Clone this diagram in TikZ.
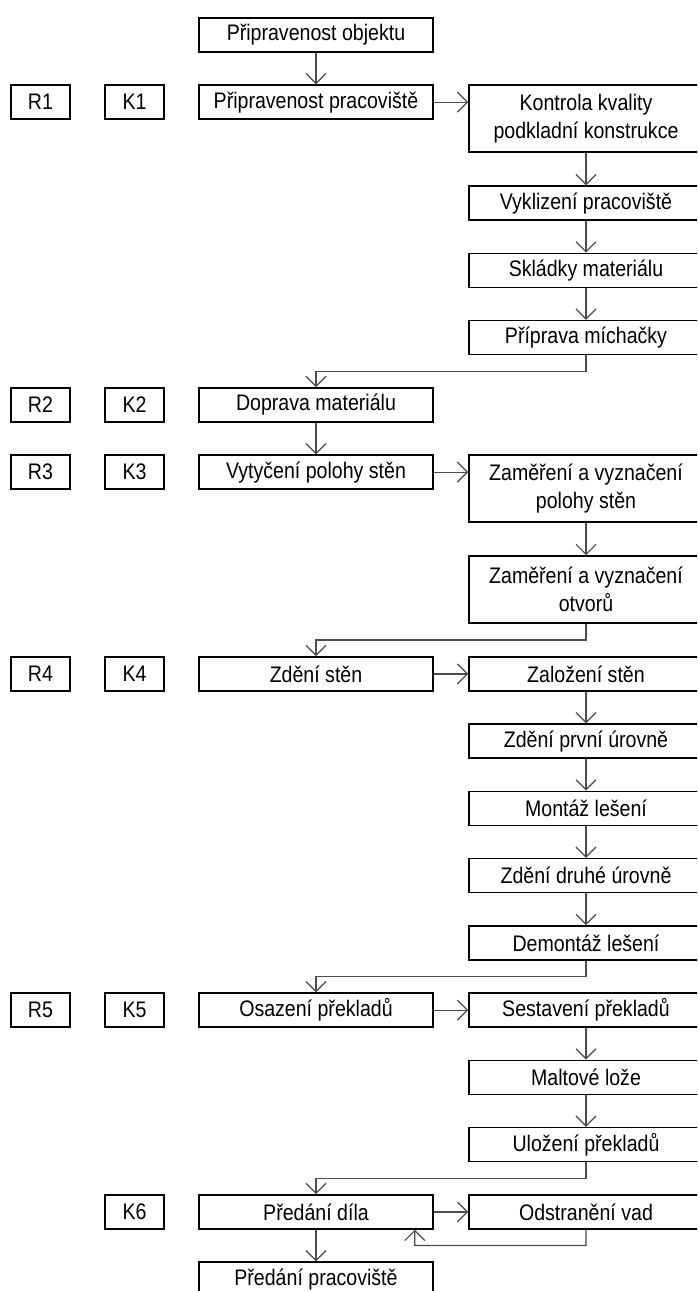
\documentclass[tikz,border=0pt]{standalone}
\usepackage{fontspec}
\setmainfont{Liberation Sans}[FakeStretch=0.87]
\usetikzlibrary{arrows.meta,calc}
\begin{document}
\begin{tikzpicture}[x=1pt,y=-1pt,
  font=\fontsize{22.5}{28}\selectfont,
  box/.style={draw=black, line width=1.6pt, minimum width=234, minimum height=34, inner sep=0pt, align=center},
  tallbox/.style={box, minimum height=67},
  smallbox/.style={box, minimum width=59},
  arr/.style={draw=black!70, line width=1.2pt, -{Straight Barb[length=10pt,width=20pt,line width=1.2pt]}}]
\useasboundingbox (0,0) rectangle (697,1291);
\clip (0,0) rectangle (697,1291);
\fill[white] (0,0) rectangle (697,1291);
% left column x=316, right x=586, R x=40.5, K x=134.5
\node[box] (obj) at (316,35) {Připravenost objektu};
\node[smallbox] (r1) at (40.5,102.2) {R1};
\node[smallbox] (k1) at (134.5,102.2) {K1};
\node[box] (prac) at (316,102.2) {Připravenost pracoviště};
\node[tallbox] (kontr) at (586,118.7) {Kontrola kvality\\podkladní konstrukce};
\node[box] (vykl) at (586,203.1) {Vyklizení pracoviště};
\node[box] (skl) at (586,270.4) {Skládky materiálu};
\node[box] (mich) at (586,337.6) {Příprava míchačky};
\node[smallbox] (r2) at (40.5,404.9) {R2};
\node[smallbox] (k2) at (134.5,404.9) {K2};
\node[box] (dopr) at (316,404.9) {Doprava materiálu};
\node[smallbox] (r3) at (40.5,472.1) {R3};
\node[smallbox] (k3) at (134.5,472.1) {K3};
\node[box] (vyty) at (316,472.1) {Vytyčení polohy stěn};
\node[tallbox] (zam1) at (586,488.6) {Zaměření a vyznačení\\polohy stěn};
\node[tallbox] (zam2) at (586,589.5) {Zaměření a vyznačení\\otvorů};
\node[smallbox] (r4) at (40.5,673.9) {R4};
\node[smallbox] (k4) at (134.5,673.9) {K4};
\node[box] (zdeni) at (316,673.9) {Zdění stěn};
\node[box] (zal) at (586,673.9) {Založení stěn};
\node[box] (prvni) at (586,741.1) {Zdění první úrovně};
\node[box] (mont) at (586,808.4) {Montáž lešení};
\node[box] (druhe) at (586,875.6) {Zdění druhé úrovně};
\node[box] (demont) at (586,942.9) {Demontáž lešení};
\node[smallbox] (r5) at (40.5,1010.1) {R5};
\node[smallbox] (k5) at (134.5,1010.1) {K5};
\node[box] (osaz) at (316,1010.1) {Osazení překladů};
\node[box] (sest) at (586,1010.1) {Sestavení překladů};
\node[box] (malt) at (586,1077.4) {Maltové lože};
\node[box] (uloz) at (586,1144.6) {Uložení překladů};
\node[smallbox] (k6) at (134.5,1211.9) {K6};
\node[box] (pred) at (316,1211.9) {Předání díla};
\node[box] (odst) at (586,1211.9) {Odstranění vad};
\node[box] (predp) at (316,1279.1) {Předání pracoviště};
% connectors
\draw[arr] (obj) -- (prac);
\draw[arr] (prac.east) -- (prac.east -| kontr.west);
\draw[arr] (kontr) -- (vykl);
\draw[arr] (vykl) -- (skl);
\draw[arr] (skl) -- (mich);
\draw[arr] (mich.south) |- ($(mich.south)!0.5!(dopr.north)$) -| (dopr.north);
\draw[arr] (dopr) -- (vyty);
\draw[arr] (vyty.east) -- (vyty.east -| zam1.west);
\draw[arr] (zam1) -- (zam2);
\draw[arr] (zam2.south) |- ($(zam2.south)!0.5!(zdeni.north)$) -| (zdeni.north);
\draw[arr] (zdeni) -- (zal);
\draw[arr] (zal) -- (prvni);
\draw[arr] (prvni) -- (mont);
\draw[arr] (mont) -- (druhe);
\draw[arr] (druhe) -- (demont);
\draw[arr] (demont.south) |- ($(demont.south)!0.5!(osaz.north)$) -| (osaz.north);
\draw[arr] (osaz) -- (sest);
\draw[arr] (sest) -- (malt);
\draw[arr] (malt) -- (uloz);
\draw[arr] (uloz.south) |- ($(uloz.south)!0.5!(pred.north)$) -| (pred.north);
\draw[arr] (pred) -- (odst);
\coordinate (fb) at ($(pred.south east)+(-19,0)$);
\draw[arr] (odst.south) |- ($(fb)!0.5!(predp.north -| fb)$) -- (fb);
\draw[arr] (pred) -- (predp);
\end{tikzpicture}
\end{document}
